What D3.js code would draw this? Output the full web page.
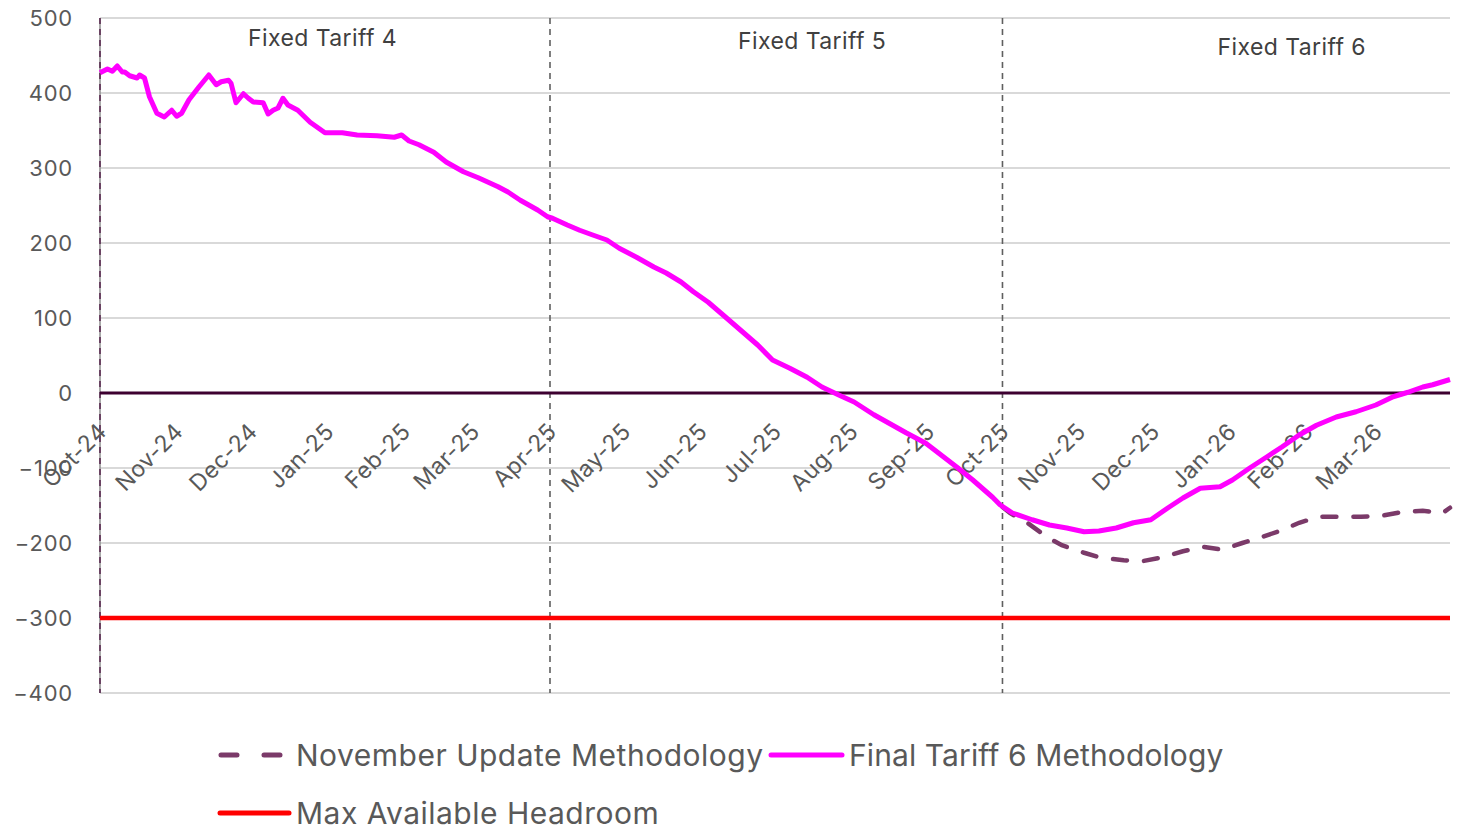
<!DOCTYPE html>
<html><head><meta charset="utf-8">
<script src="https://cdn.jsdelivr.net/npm/d3@7/dist/d3.min.js"></script>
<style>
html,body{margin:0;padding:0;background:#fff;}
svg{display:block;font-family:Inter,"Open Sans",sans-serif;}
</style></head>
<body>
<svg id="chart" width="1463" height="829"></svg>
<script>
// ---- data ----
const finalDates = ["2024-10-01","2024-10-04","2024-10-06","2024-10-08","2024-10-10","2024-10-11","2024-10-13","2024-10-16","2024-10-17","2024-10-19","2024-10-21","2024-10-24","2024-10-27","2024-10-30","2024-11-01","2024-11-03","2024-11-06","2024-11-10","2024-11-14","2024-11-17","2024-11-19","2024-11-22","2024-11-23","2024-11-25","2024-11-28","2024-11-30","2024-12-02","2024-12-06","2024-12-08","2024-12-10","2024-12-12","2024-12-14","2024-12-16","2024-12-20","2024-12-25","2024-12-31","2025-01-07","2025-01-13","2025-01-21","2025-01-28","2025-01-31","2025-02-03","2025-02-07","2025-02-13","2025-02-18","2025-02-25","2025-03-03","2025-03-07","2025-03-11","2025-03-15","2025-03-20","2025-03-27","2025-03-31","2025-04-02","2025-04-08","2025-04-13","2025-04-18","2025-04-24","2025-04-29","2025-05-06","2025-05-13","2025-05-18","2025-05-24","2025-05-29","2025-06-04","2025-06-10","2025-06-17","2025-06-24","2025-06-30","2025-07-07","2025-07-14","2025-07-20","2025-07-27","2025-08-02","2025-08-10","2025-08-23","2025-08-31","2025-09-13","2025-09-19","2025-09-27","2025-09-30","2025-10-05","2025-10-13","2025-10-20","2025-10-27","2025-11-03","2025-11-09","2025-11-16","2025-11-23","2025-11-30","2025-12-07","2025-12-13","2025-12-20","2025-12-28","2026-01-02","2026-01-09","2026-01-16","2026-01-22","2026-01-29","2026-02-05","2026-02-13","2026-02-21","2026-03-01","2026-03-08","2026-03-14","2026-03-20","2026-03-24","2026-03-31"];
const finalValues = [427,432,429,436,428,428,423,420,424,420,395,373,368,377,369,373,391,408,424,411,415,417,413,387,399,393,388,387,372,377,380,393,384,377,361,347,347,344,343,341,344,336,331,321,308,295,287,281,275,268,257,244,235,233,224,217,211,204,193,181,168,160,148,135,121,104,84,64,44,33,21,8,-3,-12,-29,-53,-67,-100,-116,-139,-149,-160,-169,-176,-180,-185,-184,-180,-173,-169,-153,-140,-127,-125,-116,-100,-85,-72,-56,-43,-32,-25,-16,-5,1,8,11,18];

const novDates = ["2025-10-01","2025-10-04","2025-10-11","2025-10-19","2025-10-25","2025-11-03","2025-11-09","2025-11-19","2025-11-27","2025-12-05","2025-12-13","2025-12-21","2025-12-29","2026-01-06","2026-01-13","2026-01-22","2026-01-29","2026-02-06","2026-02-15","2026-02-23","2026-03-03","2026-03-11","2026-03-20","2026-03-28","2026-03-31"];
const novValues = [-152,-160,-173,-192,-203,-213,-219,-223,-224,-219,-211,-205,-209,-200,-193,-183,-173,-165,-165,-165,-164,-159,-157,-160,-153];

const headroomDates = ["2024-10-01","2026-03-31"];
const headroomValues = [-300,-300];

const periodStarts = ["2024-10-01","2025-04-01","2025-10-01"];
const periodLabels = ["Fixed Tariff 4","Fixed Tariff 5","Fixed Tariff 6"];
const periodLabelDates = ["2024-12-30","2025-07-16","2026-01-26"];
const yTicks = [500,400,300,200,100,0,-100,-200,-300,-400];
const seriesNames = ["November Update Methodology","Final Tariff 6 Methodology","Max Available Headroom"];

// ---- layout ----
const svg = d3.select("#chart");
const parse = d3.utcParse("%Y-%m-%d");
const L = 100, R = 1450, T = 18, B = 693;
const x = d3.scaleUtc().domain([parse("2024-10-01"), parse("2026-03-31")]).range([L, R]);
const y = d3.scaleLinear().domain([-400, 500]).range([B, T]);
const txt = "#595959";

// gridlines
svg.append("g").selectAll("line").data(yTicks.filter(v => v !== 0)).join("line")
  .attr("x1", L).attr("x2", R).attr("y1", d => y(d)).attr("y2", d => y(d))
  .attr("stroke", "#d9d9d9").attr("stroke-width", 2);

// y labels
svg.append("g").selectAll("text").data(yTicks).join("text")
  .attr("x", 73).attr("y", d => y(d)).attr("dy", "0.35em")
  .attr("text-anchor", "end").attr("fill", txt).attr("font-size", 22).attr("letter-spacing", 0.8)
  .text(d => d < 0 ? "\u2212" + Math.abs(d) : d);

// left axis line
svg.append("line").attr("x1", L).attr("x2", L).attr("y1", T).attr("y2", B)
  .attr("stroke", "#8c8c8c").attr("stroke-width", 1.5);

// period dashed lines
svg.append("g").selectAll("line").data(periodStarts).join("line")
  .attr("x1", d => x(parse(d))).attr("x2", d => x(parse(d)))
  .attr("y1", T).attr("y2", B)
  .attr("stroke", (d, i) => i === 0 ? "#5a2a50" : "#5f5f5f")
  .attr("stroke-width", 1.6).attr("stroke-dasharray", "6,5");

// period labels
const labelY = [38, 41, 47];
svg.append("g").selectAll("text").data(periodLabels).join("text")
  .attr("x", (d, i) => x(parse(periodLabelDates[i])))
  .attr("y", (d, i) => labelY[i]).attr("dy", "0.35em")
  .attr("text-anchor", "middle").attr("fill", "#404040").attr("font-size", 23).attr("letter-spacing", 0.4)
  .text(d => d);

// zero line
svg.append("line").attr("x1", L).attr("x2", R).attr("y1", y(0)).attr("y2", y(0))
  .attr("stroke", "#3d0030").attr("stroke-width", 3);

// x axis labels
const months = d3.utcMonth.range(parse("2024-10-01"), parse("2026-04-01"));
const fmt = d3.utcFormat("%b-%y");
svg.append("g").selectAll("text").data(months).join("text")
  .attr("transform", d => `translate(${x(d) + 8},${y(0) + 40}) rotate(-45)`)
  .attr("text-anchor", "end").attr("fill", txt).attr("font-size", 23).attr("letter-spacing", 0.5)
  .text(d => fmt(d));

// lines
const line = d3.line().x(d => x(d[0])).y(d => y(d[1]));
const zip = (ds, vs) => ds.map((d, i) => [parse(d), vs[i]]);

svg.append("path").datum(zip(headroomDates, headroomValues))
  .attr("d", line).attr("fill", "none").attr("stroke", "#ff0000").attr("stroke-width", 4.5);

svg.append("path").datum(zip(novDates, novValues))
  .attr("d", line).attr("fill", "none").attr("stroke", "#7b3a69").attr("stroke-width", 4.5)
  .attr("stroke-linecap", "round").attr("stroke-dasharray", "14,17");

svg.append("path").datum(zip(finalDates, finalValues))
  .attr("d", line).attr("fill", "none").attr("stroke", "#ff00ff").attr("stroke-width", 5)
  .attr("stroke-linejoin", "round");

// legend
const leg = svg.append("g");
const legItems = [
  {name: seriesNames[0], x1: 221, x2: 281, ty: 755, tx: 296, color: "#7b3a69", dash: "16,27"},
  {name: seriesNames[1], x1: 771, x2: 842, ty: 755, tx: 849, color: "#ff00ff", dash: null},
  {name: seriesNames[2], x1: 220, x2: 289, ty: 813, tx: 296, color: "#ff0000", dash: null}
];
legItems.forEach(it => {
  leg.append("line").attr("x1", it.x1).attr("x2", it.x2).attr("y1", it.ty).attr("y2", it.ty)
    .attr("stroke", it.color).attr("stroke-width", 5).attr("stroke-linecap", "round")
    .attr("stroke-dasharray", it.dash);
  leg.append("text").attr("x", it.tx).attr("y", it.ty).attr("dy", "0.35em")
    .attr("fill", txt).attr("font-size", 30).attr("letter-spacing", it.name === seriesNames[1] ? 0.1 : 0.5).text(it.name);
});
</script>
</body></html>
